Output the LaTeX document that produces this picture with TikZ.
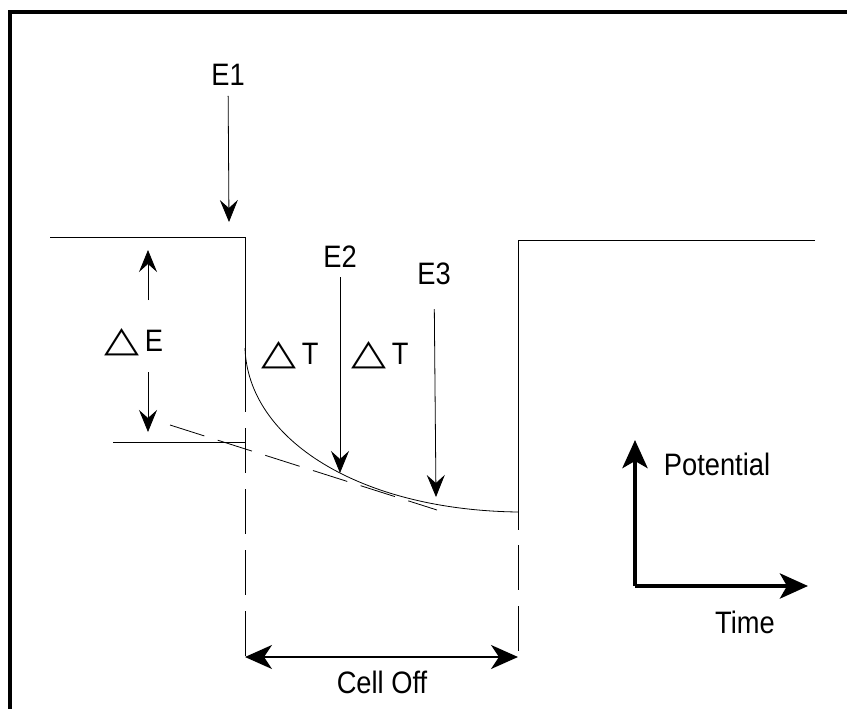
\documentclass[tikz,border=0pt]{standalone}
\usepackage{graphicx}
\usepackage{fontspec}
\setmainfont{Liberation Sans}[FakeStretch=0.88]
\newfontfamily\symfont{DejaVu Sans}
\usetikzlibrary{arrows.meta}
\tikzset{
	lbl/.style      = {font=\fontsize{31}{33}\selectfont, inner sep=0pt},
	trace/.style    = {line width=0.8pt},
	offline/.style  = {line width=0.8pt, dash pattern=on 45pt off 16pt},
	tangent/.style  = {line width=0.8pt, dash pattern=on 36pt off 14pt},
	probe/.style    = {-{Stealth[length=22pt, width=18pt, inset=8pt]}, line width=0.8pt},
	span/.style     = {{Stealth[length=27pt, width=24pt, inset=8pt]}-{Stealth[length=27pt, width=24pt, inset=8pt]}, line width=2.2pt},
	axis/.style     = {-{Stealth[length=28pt, width=25pt, inset=7pt]}, line width=4.5pt},
	frame/.style    = {line width=4pt}
}
\newcommand{\tri}{{\symfont\resizebox{35pt}{23pt}{△}}}

\begin{document}
\begin{tikzpicture}[x=1pt, y=-1pt]
\useasboundingbox (0,0) rectangle (847,709);
\draw[frame] (847,12) -- (10,12) -- (10,709);

% Key points of the trace
\coordinate (onL)    at (50,237);
\coordinate (offA)   at (245,237);
\coordinate (offB)   at (245,412);
\coordinate (offC)   at (245,428);
\coordinate (offD)   at (245,657);
\coordinate (decay0) at (245,348);
\coordinate (decay1) at (518,512);
\coordinate (onA)    at (518,240);
\coordinate (onB)    at (518,530);
\coordinate (onC)    at (518,545);
\coordinate (onD)    at (518,657);
\coordinate (onR)    at (815,240);
\coordinate (lowL)   at (113,442);
\coordinate (lowR)   at (245,442);
\coordinate (tanA)   at (170,425);
\coordinate (tanB)   at (437,510);

% Labels
\draw
node at (228,75)  [lbl] (e1) {E1}
node at (340,257) [lbl] (e2) {E2}
node at (434,274) [lbl] (e3) {E3}
node at (134,342) [lbl] (dE) {\tri\,E}
node at (290,355) [lbl] (dT1) {\tri\,T}
node at (380,355) [lbl] (dT2) {\tri\,T}
node at (382,682) [lbl] (cell) {Cell Off}
node at (717,464) [lbl] (pot) {Potential}
node at (745,622) [lbl] (time) {Time};

% Probe tips
\coordinate (e1tip) at (229,222);
\coordinate (e2tip) at (340,473);
\coordinate (e3tip) at (436,497);
\coordinate (dEup)  at (148,250);
\coordinate (dEupS) at (148,300);
\coordinate (dEdn)  at (148,432);
\coordinate (dEdnS) at (148,372);

% Trace
\draw[trace] (onL) -- (offA) -- (offB);
\draw[offline] (offC) -- (offD);
\draw[trace] (decay0) .. controls (248,440) and (360,510) .. (decay1);
\draw[trace] (onR) -- (onA) -- (onB);
\draw[offline] (onC) -- (onD);
\draw[trace] (lowL) -- (lowR);
\draw[tangent] (tanA) -- (tanB);

% Arrows
\draw[probe, shorten <=10pt] (e1) -- (e1tip);
\draw[probe, shorten <=9pt] (e2) -- (e2tip);
\draw[probe, shorten <=24pt] (e3) -- (e3tip);
\draw[probe] (dEupS) -- (dEup);
\draw[probe] (dEdnS) -- (dEdn);
\draw[span] (offD) -- (onD);

% Axes
\coordinate (orig) at (635,586);
\coordinate (potTip) at (635,440);
\coordinate (timeTip) at (808,586);
\draw[axis] (orig) -- (potTip);
\draw[axis] (orig) -- (timeTip);
\end{tikzpicture}
\end{document}
